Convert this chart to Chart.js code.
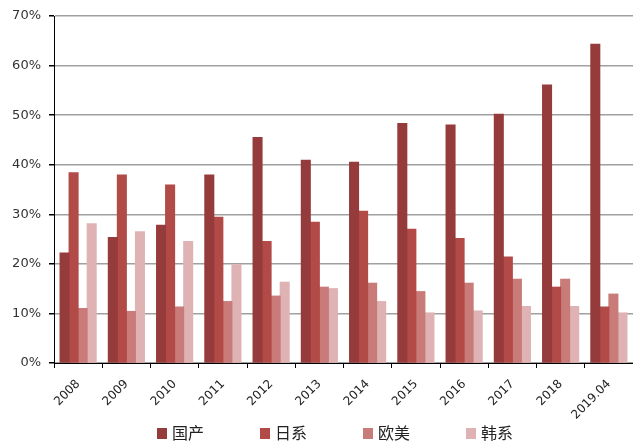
<!DOCTYPE html>
<html>
<head>
<meta charset="utf-8">
<script src="https://cdn.jsdelivr.net/npm/chart.js@4"></script>
<style>
  html, body { margin: 0; padding: 0; background: #fff; }
  #wrap { width: 633px; height: 443px; }
</style>
</head>
<body>
<div id="wrap"><canvas id="shareChart"></canvas></div>
<script>
const years = ['2008', '2009', '2010', '2011', '2012', '2013', '2014', '2015', '2016', '2017', '2018', '2019.04'];
const domestic = [22.2, 25.3, 27.8, 37.9, 45.5, 40.9, 40.5, 48.3, 48.0, 50.2, 56.1, 64.3];
const japanese = [38.4, 37.9, 35.9, 29.4, 24.5, 28.4, 30.6, 27.0, 25.1, 21.4, 15.3, 11.3];
const western  = [11.0, 10.4, 11.3, 12.4, 13.5, 15.3, 16.1, 14.4, 16.1, 16.9, 16.9, 13.9];
const korean   = [28.1, 26.5, 24.5, 19.8, 16.3, 15.0, 12.4, 10.1, 10.5, 11.4, 11.4, 10.1];
const seriesNames = ['国产', '日系', '欧美', '韩系'];
const colors = ['#953b3b', '#b24a48', '#c97b7a', '#dfb3b3'];

// legend drawn below the rotated year labels, spaced like the original
const bottomLegend = {
    id: 'bottomLegend',
    afterDraw(chart) {
        const c = chart.ctx;
        const step = 103;
        const startX = 157;
        const y = 433;
        c.save();
        c.font = '16px "Noto Sans CJK SC"';
        c.textBaseline = 'middle';
        chart.data.datasets.forEach(function(ds, i) {
            const x = startX + i * step;
            c.fillStyle = ds.backgroundColor;
            c.fillRect(x, y - 5, 10, 11);
            c.fillStyle = '#222';
            c.fillText(ds.label, x + 15, y);
        });
        c.restore();
    }
};

const ctx = document.getElementById('shareChart');
new Chart(ctx, {
    type: 'bar',
    data: {
        labels: years,
        datasets: [domestic, japanese, western, korean].map(function(vals, i) {
            return { label: seriesNames[i], data: vals, backgroundColor: colors[i], borderWidth: 0, inflateAmount: 0.5 };
        })
    },
    options: {
        responsive: true,
        maintainAspectRatio: false,
        animation: false,
        layout: { padding: { top: 16, right: 0, left: 0, bottom: 0 } },
        datasets: { bar: { categoryPercentage: 0.75, barPercentage: 1.0 } },
        plugins: {
            legend: { display: false },
            tooltip: { enabled: false }
        },
        scales: {
            x: {
                afterFit: function(scale) { scale.height = 80; },
                grid: { drawOnChartArea: false, color: '#000', tickLength: 5, offset: true },
                border: { color: '#000', width: 1 },
                ticks: {
                    minRotation: 45, maxRotation: 45, padding: 9,
                    color: '#222',
                    font: { family: 'DejaVu Sans', size: 12 }
                }
            },
            y: {
                min: 0, max: 70,
                afterFit: function(scale) { scale.width = 54; },
                grid: { color: '#a0a0a0', lineWidth: 1.5, tickColor: '#000', tickLength: 5 },
                border: { color: '#000', width: 1 },
                ticks: {
                    stepSize: 10, padding: 8,
                    color: '#333',
                    font: { family: 'DejaVu Sans', size: 13 },
                    callback: function(v) { return v + '%'; }
                }
            }
        }
    },
    plugins: [bottomLegend]
});
</script>
</body>
</html>
